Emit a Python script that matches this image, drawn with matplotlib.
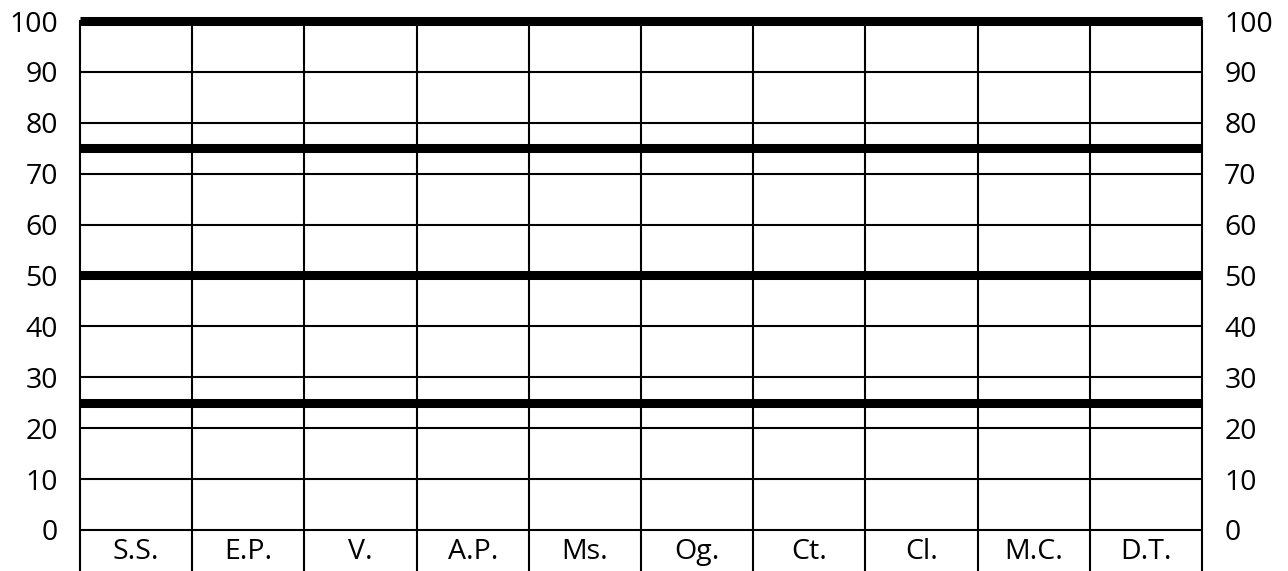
import matplotlib
matplotlib.use("Agg")
import matplotlib.pyplot as plt

plt.rcParams['font.family'] = ['Open Sans', 'DejaVu Sans']

categories = ['S.S.', 'E.P.', 'V.', 'A.P.', 'Ms.', 'Og.', 'Ct.', 'Cl.', 'M.C.', 'D.T.']
y_ticks = [0, 10, 20, 30, 40, 50, 60, 70, 80, 90, 100]
thin_levels = [0, 10, 20, 30, 40, 60, 70, 80, 90]
thick_levels = [25, 50, 75, 100]

fig = plt.figure(figsize=(12.88, 5.71), dpi=100)
ax = fig.add_axes([80 / 1288, 0, (1202 - 80) / 1288, 1 - 21 / 571])

n = len(categories)
ax.set_xlim(0, n)
ax.set_ylim(-8.06, 100)

# grid: thin horizontal lines, then the thick quartile lines
for v in thin_levels:
    ax.axhline(v, color='black', lw=1.5, zorder=2)
for v in thick_levels:
    ax.axhline(v, color='black', lw=6.5, zorder=3, solid_capstyle='butt', clip_on=False)
for i in range(1, n):
    ax.axvline(i, color='black', lw=1.5, zorder=2)

# column labels inside the bottom row
for i, c in enumerate(categories):
    ax.text(i + 0.5, -4.3, c, ha='center', va='center', fontsize=20.5)

ax.set_xticks([])
ax.set_yticks(y_ticks)
ax.set_yticklabels([str(v) for v in y_ticks])
ax.tick_params(axis='y', length=0, pad=16, labelsize=20.5,
               left=True, right=True, labelleft=True, labelright=True)

for side in ['left', 'right']:
    ax.spines[side].set_linewidth(1.5)
ax.spines['top'].set_visible(False)
ax.spines['bottom'].set_visible(False)

fig.savefig('out.png', dpi=100)
